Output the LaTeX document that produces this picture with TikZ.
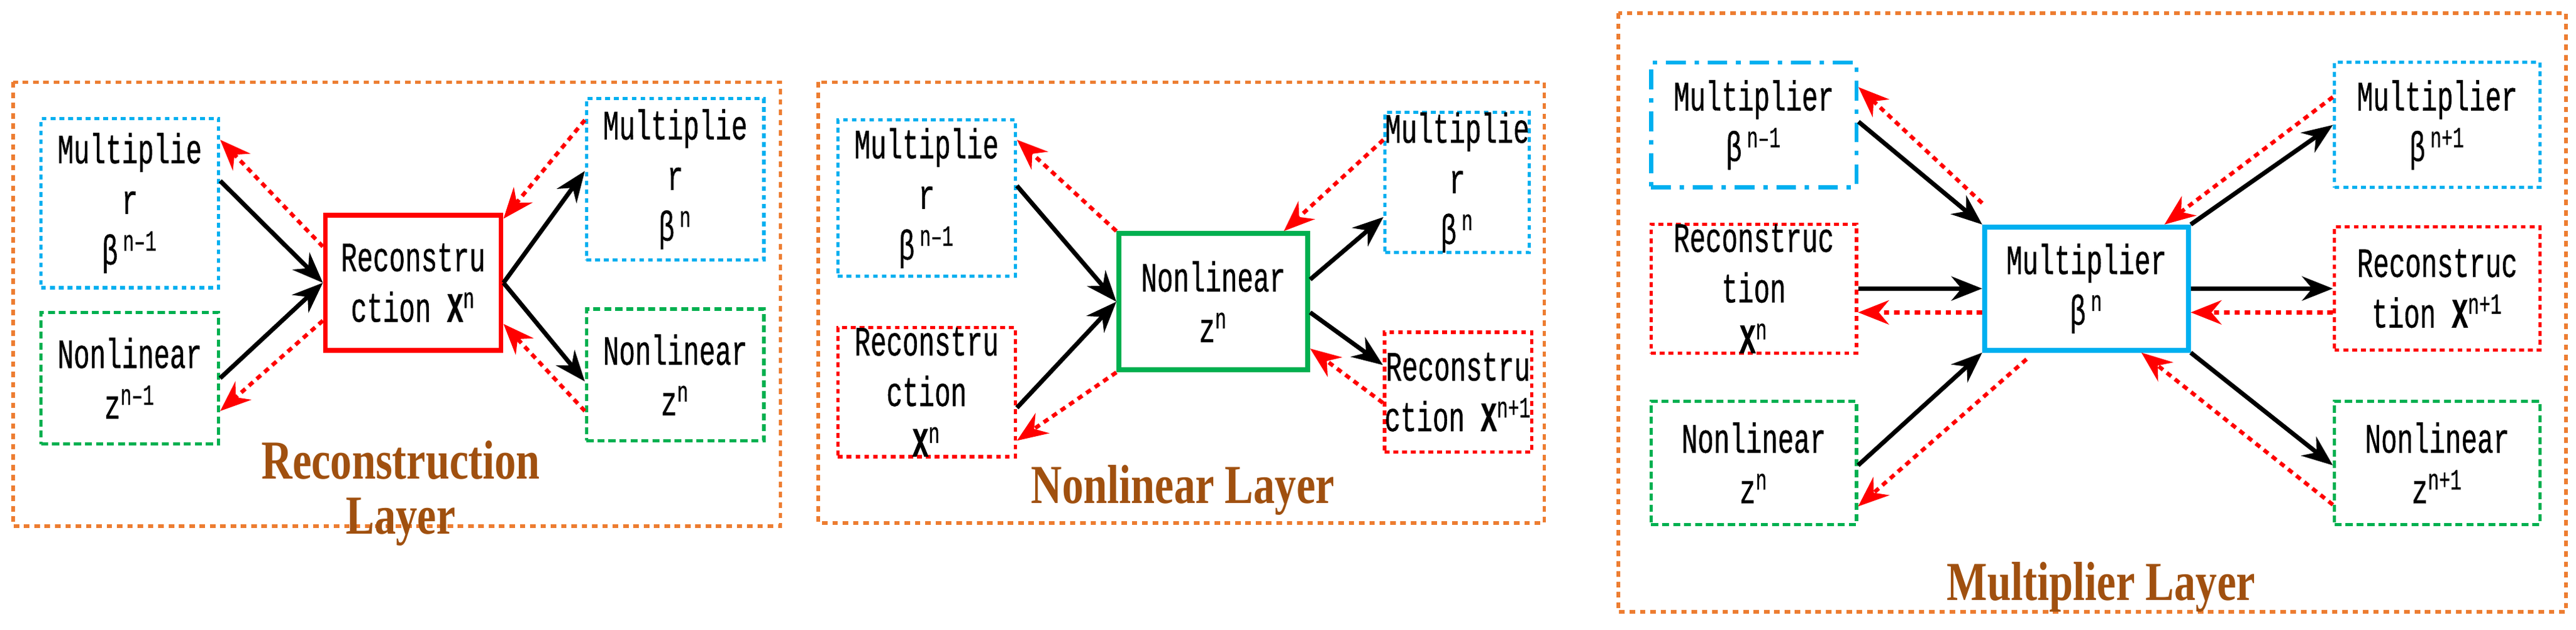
\documentclass[tikz,border=0pt]{standalone}
\usepackage{fontspec}
\usetikzlibrary{calc,arrows.meta}
\newfontfamily\boxfnt{Liberation Mono}[FakeStretch=0.64,FakeBold=0.6]
\newfontfamily\ttlfnt{Liberation Serif}[FakeStretch=0.78]
\definecolor{cb}{HTML}{00B0F0}
\definecolor{cg}{HTML}{00B050}
\definecolor{cr}{HTML}{FF0000}
\definecolor{co}{HTML}{ED7D31}
\definecolor{ct}{HTML}{A0500F}
\def\u{0.02628cm}
\newcommand\bx[7]{\node[#1, minimum width={(#4-#2)*\u}, minimum height={(#5-#3)*\u}] (#6) at ({(#2+#4)/2},{(#3+#5)/2}) {#7};}
\tikzset{
 box/.style={draw, line width=1.5pt, inner sep=0pt, align=center, font=\boxfnt\fontsize{19}{23}\selectfont},
 bdot/.style={box, cb, text=black, dash pattern=on 2.2pt off 1.8pt},
 bdd/.style={box, cb, text=black, line width=1.8pt, dash pattern=on 9pt off 4pt on 2pt off 4pt},
 gdash/.style={box, cg, text=black, dash pattern=on 3.2pt off 1.8pt},
 rdot/.style={box, cr, text=black, dash pattern=on 2.2pt off 1.8pt},
 csolid/.style={box, line width=2.2pt, text=black, dash pattern=},
 layer/.style={draw=co, line width=1.6pt, dash pattern=on 2.5pt off 2.2pt},
 ttl/.style={text=ct, font=\ttlfnt\bfseries\fontsize{25}{27}\selectfont, align=center},
 blk/.style={draw=black, line width=2pt, -{Stealth[length=14pt,width=11pt]}},
 red/.style={draw=cr, line width=1.8pt, dash pattern=on 2.5pt off 2.2pt, -{Stealth[length=14pt,width=11pt]}},
}
\begin{document}
\begin{tikzpicture}[x=\u, y=-\u]
\useasboundingbox (0,0) rectangle (1568,383);
% layers
\draw[layer] (8,50) rectangle (475,320);
\draw[layer] (498,50) rectangle (940,318);
\draw[layer] (985,8) rectangle (1562,372);
\node[ttl] (t1) at (244,300) {Reconstruction\\[-2pt]Layer};
\node[ttl] (t2) at (720,298) {Nonlinear Layer};
\node[ttl] (t3) at (1279,357) {Multiplier Layer};
% panel 1
\bx{bdot}{25}{72}{133}{175}{ML}{Multiplie\\r\\β\textsuperscript{\,n–1}}
\bx{gdash}{25}{190}{133}{270}{NL}{Nonlinear\\z\textsuperscript{n–1}}
\bx{csolid,draw=cr}{198}{131}{305}{213}{RC}{Reconstru\\ction \textbf{X}\textsuperscript{n}}
\bx{bdot}{357}{60}{465}{158}{MR}{Multiplie\\r\\β\textsuperscript{\,n}}
\bx{gdash}{357}{188}{465}{268}{NR}{Nonlinear\\z\textsuperscript{n}}
\draw[blk] ($(ML.east)+(0,-13.5)$) -- (RC.west);
\draw[blk] (NL.east) -- (RC.west);
\draw[blk] (RC.east) -- ($(MR.west)+(0,-5)$);
\draw[blk] (RC.east) -- ($(NR.west)+(0,4)$);
\draw[red] ($(RC.west)+(0,-22)$) -- ($(ML.east)+(0,-38.5)$);
\draw[red] ($(RC.west)+(0,23)$) -- ($(NL.east)+(0,20)$);
\draw[red] ($(MR.west)+(0,-36)$) -- ($(RC.east)+(0,-39)$);
\draw[red] ($(NR.west)+(0,22)$) -- ($(RC.east)+(0,25)$);
% panel 2
\bx{bdot}{510}{73}{618}{168}{ML2}{Multiplie\\r\\β\textsuperscript{\,n–1}}
\bx{rdot}{510}{205}{618}{272}{RL2}{Reconstru\\ction\\\textbf{X}\textsuperscript{n}}
\bx{csolid,draw=cg}{681}{142}{796}{225}{NC}{Nonlinear\\z\textsuperscript{n}}
\bx{bdot}{848}{70}{926}{152}{MR2}{Multiplie\\r\\β\textsuperscript{\,n}}
\bx{rdot}{845}{202}{930}{275}{RR2}{Reconstru\\ction \textbf{X}\textsuperscript{n+1}}
\draw[blk] ($(ML2.east)+(0,-7.5)$) -- (NC.west);
\draw[blk] ($(RL2.east)+(0,9.5)$) -- (NC.west);
\draw[blk] ($(NC.east)+(0,-13.5)$) -- ($(MR2.west)+(0,21)$);
\draw[blk] ($(NC.east)+(0,6.5)$) -- ($(RR2.west)+(0,-16.5)$);
\draw[red] (NC.north west) -- ($(ML2.east)+(0,-35.5)$);
\draw[red] (NC.south west) -- ($(RL2.east)+(0,29.5)$);
\draw[red] ($(MR2.west)+(0,-26)$) -- ($(NC.north east)+(-16,0)$);
\draw[red] ($(RR2.west)+(0,6.5)$) -- ($(NC.east)+(0,28.5)$);
% panel 3
\bx{bdd}{1005}{38}{1130}{114}{MLb}{Multiplier\\β\textsuperscript{\,n–1}}
\bx{rdot}{1005}{138}{1130}{213}{RLb}{Reconstruc\\tion\\\textbf{X}\textsuperscript{n}}
\bx{gdash}{1005}{244}{1130}{319}{NLb}{Nonlinear\\z\textsuperscript{n}}
\bx{csolid,draw=cb}{1208}{138}{1332}{213}{C}{Multiplier\\β\textsuperscript{\,n}}
\bx{bdot}{1421}{38}{1546}{114}{MRb}{Multiplier\\β\textsuperscript{\,n+1}}
\bx{rdot}{1421}{138}{1546}{213}{RRb}{Reconstruc\\tion \textbf{X}\textsuperscript{n+1}}
\bx{gdash}{1421}{244}{1546}{319}{NRb}{Nonlinear\\z\textsuperscript{n+1}}
\draw[blk] ($(MLb.east)+(0,-2)$) -- (C.north west);
\draw[red] ($(C.north west)+(0,-13)$) -- ($(MLb.east)+(0,-23)$);
\draw[blk] (RLb.east) -- (C.west);
\draw[red] ($(C.west)+(0,14.5)$) -- ($(RLb.east)+(0,14.5)$);
\draw[blk] ($(NLb.east)+(0,1.5)$) -- (C.south west);
\draw[red] ($(C.south west)+(27,4)$) -- ($(NLb.east)+(0,26.5)$);
\draw[blk] (C.north east) -- (MRb.west);
\draw[red] ($(MRb.west)+(0,-17)$) -- ($(C.north east)+(-16,0)$);
\draw[blk] (C.east) -- (RRb.west);
\draw[red] ($(RRb.west)+(0,14.5)$) -- ($(C.east)+(0,14.5)$);
\draw[blk] (C.south east) -- ($(NRb.west)+(0,1.5)$);
\draw[red] ($(NRb.west)+(0,25.5)$) -- ($(C.south east)+(-30,0)$);
\end{tikzpicture}
\end{document}
